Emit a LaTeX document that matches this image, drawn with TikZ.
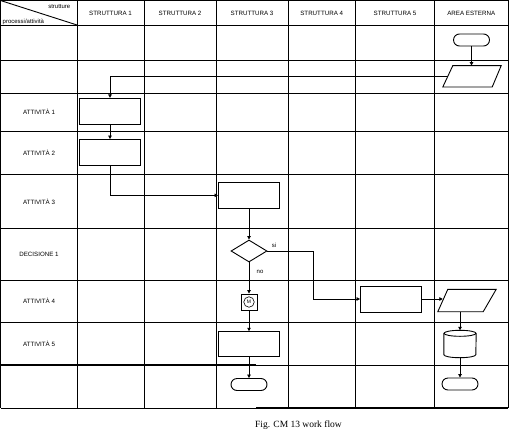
\documentclass[tikz,border=0pt]{standalone}
\usepackage{fontspec}
\setmainfont{Liberation Sans}
\newfontfamily\capfont{Liberation Serif}
\usetikzlibrary{arrows.meta,shapes.geometric}
\begin{document}
\begin{tikzpicture}[x=1pt,y=-1pt,
  gridline/.style={line width=0.9pt},
  heavy/.style={line width=2pt},
  proc/.style={draw, line width=0.9pt, minimum width=61pt, minimum height=26pt, inner sep=0pt},
  term/.style={draw, line width=0.9pt, rounded corners=6pt, minimum width=36pt, minimum height=12pt, inner sep=0pt},
  parabox/.style={minimum width=58pt, minimum height=21pt, inner sep=0pt},
  flow/.style={line width=0.9pt, -{Triangle[length=3.5pt,width=3.5pt]}},
  lab/.style={font=\fontsize{6.2}{7}\selectfont, inner sep=0pt},
  small/.style={font=\fontsize{6}{7}\selectfont, inner sep=0pt}]
\useasboundingbox[fill=white] (0,0) rectangle (510,433);
% grid
\foreach \x in {0.5,77,144,216,288,355.5,434.5,508} \draw[gridline] (\x,0.5) -- (\x,408);
\foreach \y in {0.5,25,60.5,93,131,174,228,280,322} \draw[gridline] (0.5,\y) -- (508,\y);
\draw[gridline] (256,365) -- (508,365);
\draw[heavy] (0.5,365) -- (256,365);
\draw[gridline] (0.5,408) -- (256,408);
\draw[heavy] (256,408) -- (508,408);
\draw[gridline] (0.5,0.5) -- (77,25);
% header texts
\node[small, anchor=east] (hs) at (70.5,6.5) {strutture};
\node[small, anchor=west] (hp) at (2.5,21.5) {processi/attività};
\node[lab] (c1) at (110.5,13) {STRUTTURA 1};
\node[lab] (c2) at (180,13) {STRUTTURA 2};
\node[lab] (c3) at (252,13) {STRUTTURA 3};
\node[lab] (c4) at (321.7,13) {STRUTTURA 4};
\node[lab] (c5) at (395,13) {STRUTTURA 5};
\node[lab] (c6) at (471.2,13) {AREA ESTERNA};
% row labels
\node[lab] (r1) at (39,112) {ATTIVITÀ 1};
\node[lab] (r2) at (39,152.5) {ATTIVITÀ 2};
\node[lab] (r3) at (39,201.5) {ATTIVITÀ 3};
\node[lab] (r4) at (39,254) {DECISIONE 1};
\node[lab] (r5) at (39,301) {ATTIVITÀ 4};
\node[lab] (r6) at (39,344) {ATTIVITÀ 5};
% shapes
\node[term] (t1) at (471.5,40) {};
\node[parabox] (p1) at (472,76.3) {};
\draw[line width=0.9pt] ([xshift=10pt]p1.north west) -- (p1.north east) -- ([xshift=-9pt]p1.south east) -- (p1.south west) -- cycle;
\node[proc] (a1) at (110,111.3) {};
\node[proc] (a2) at (110,152.5) {};
\node[proc] (a3) at (249,195.3) {};
\node[draw, diamond, line width=0.9pt, minimum width=36pt, minimum height=22pt, inner sep=0pt] (d1) at (249,251) {};
\node[draw, line width=0.9pt, minimum size=16pt, inner sep=0pt] (m) at (249,302) {};
\node[draw, circle, line width=0.6pt, minimum size=10.5pt, inner sep=0pt, font=\fontsize{5}{5}\selectfont] (mc) at (m) {M};
\node[proc] (a4) at (391,299) {};
\node[parabox, minimum height=22pt] (p2) at (467,300.5) {};
\draw[line width=0.9pt] ([xshift=10pt]p2.north west) -- (p2.north east) -- ([xshift=-13pt]p2.south east) -- (p2.south west) -- cycle;
\node[minimum width=32pt, minimum height=27pt, inner sep=0pt] (cy) at (460,344) {};
\draw[line width=0.9pt] ([yshift=-3pt]cy.north) ellipse [x radius=16pt, y radius=3pt];
\draw[line width=0.9pt] ([yshift=-3pt]cy.north west) -- ([yshift=3pt]cy.south west)
   arc[start angle=180, end angle=360, x radius=16pt, y radius=3pt] -- ([yshift=-3pt]cy.north east);
\node[term] (t3) at (460,384) {};
\node[proc, minimum height=25pt] (a5) at (249,344.2) {};
\node[term] (t2) at (249,384.5) {};
% decision labels
\node[small] (si) at (274,245) {si};
\node[small] (no) at (260,272) {no};
% connectors
\draw[flow] (t1.south) -- (t1.south |- p1.north);
\draw[flow] ([xshift=5pt]p1.west) -| (a1.north);
\draw[flow] (a1.south) -- (a2.north);
\draw[flow] (a2.south) |- (a3.west);
\draw[flow] (a3.south) -- (d1.north);
\coordinate (k) at (313.5,251);
\draw[flow] (d1.east) -- (k) |- (a4.west);
\draw[flow] (d1.south) -- (m.north);
\draw[flow] (m.south) -- (a5.north);
\draw[flow] (a5.south) -- (t2.north);
\draw[flow] (a4.east) -- ([xshift=5pt]a4.east -| p2.west);
\draw[flow] ([xshift=-7pt]p2.south) -- ([xshift=-7pt]p2.south |- cy.north);
\draw[flow] (cy.south) -- (t3.north);
% caption
\node[font=\capfont\fontsize{9.5}{11}\selectfont, anchor=west, inner sep=0pt] (cap) at (255,425) {Fig. CM 13 work flow};
\end{tikzpicture}
\end{document}
